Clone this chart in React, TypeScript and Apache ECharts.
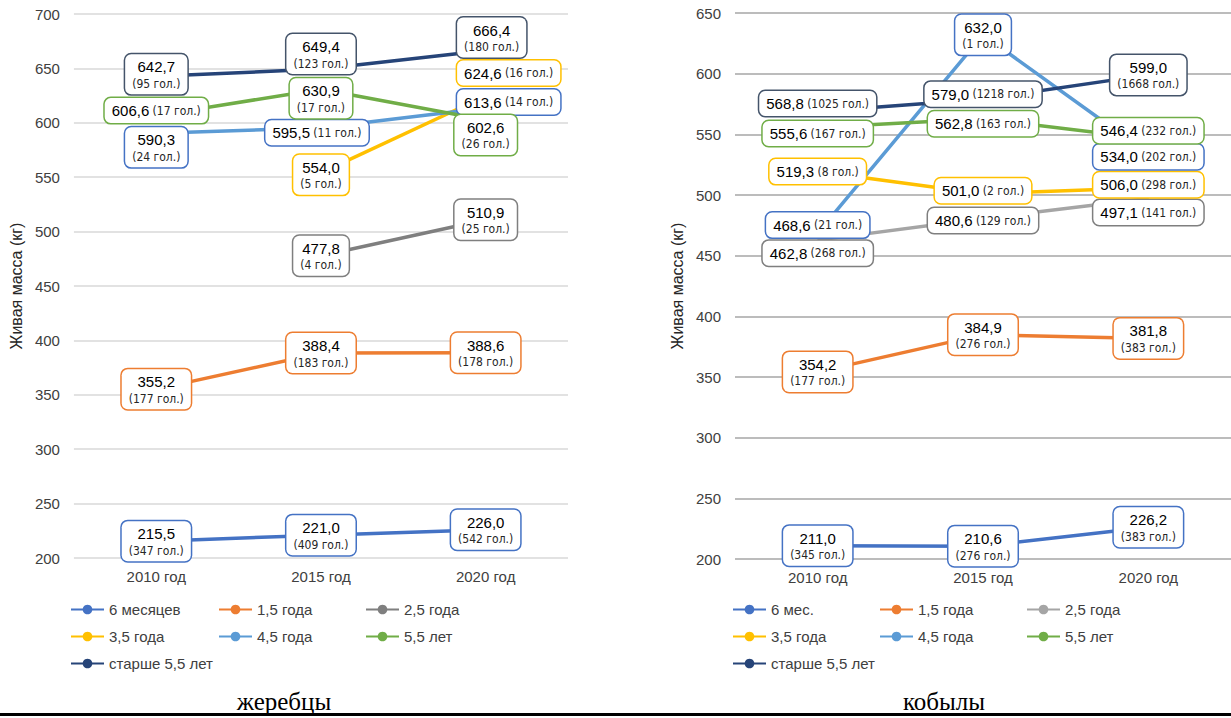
import React, { useEffect, useRef } from 'react';
import * as echarts from 'echarts';

// Category axis: survey years
const years = ['2010 год', '2015 год', '2020 год'];

// Stallions (жеребцы): live weight, kg, and number of heads per age group
const stallionAges = ['6 месяцев', '1,5 года', '2,5 года', '3,5 года', '4,5 года', '5,5 лет', 'старше 5,5 лет'];
const stallion6m = [215.5, 221.0, 226.0];
const stallion6mHeads = [347, 409, 542];
const stallion15 = [355.2, 388.4, 388.6];
const stallion15Heads = [177, 183, 178];
const stallion25 = [null, 477.8, 510.9];
const stallion25Heads = [null, 4, 25];
const stallion35 = [null, 554.0, 624.6];
const stallion35Heads = [null, 5, 16];
const stallion45 = [590.3, 595.5, 613.6];
const stallion45Heads = [24, 11, 14];
const stallion55 = [606.6, 630.9, 602.6];
const stallion55Heads = [17, 17, 26];
const stallionOld = [642.7, 649.4, 666.4];
const stallionOldHeads = [95, 123, 180];

// Mares (кобылы)
const mareAges = ['6 мес.', '1,5 года', '2,5 года', '3,5 года', '4,5 года', '5,5 лет', 'старше 5,5 лет'];
const mare6m = [211.0, 210.6, 226.2];
const mare6mHeads = [345, 276, 383];
const mare15 = [354.2, 384.9, 381.8];
const mare15Heads = [177, 276, 383];
const mare25 = [462.8, 480.6, 497.1];
const mare25Heads = [268, 129, 141];
const mare35 = [519.3, 501.0, 506.0];
const mare35Heads = [8, 2, 298];
const mare45 = [468.6, 632.0, 534.0];
const mare45Heads = [21, 1, 202];
const mare55 = [555.6, 562.8, 546.4];
const mare55Heads = [167, 163, 232];
const mareOld = [568.8, 579.0, 599.0];
const mareOldHeads = [1025, 1218, 1668];

// Line colours and label box border colours per age group
const lineColors = ['#4472C4', '#ED7D31', '#7F7F7F', '#FFC000', '#5B9BD5', '#70AD47', '#264478'];
const mareLineColors = ['#4472C4', '#ED7D31', '#A5A5A5', '#FFC000', '#5B9BD5', '#70AD47', '#264478'];
const boxColors = ['#4472C4', '#ED7D31', '#7F7F7F', '#FFC000', '#4472C4', '#70AD47', '#44546A'];

// Label layout per point: [d = two lines | s = one line, dx, dy]
type Layout = [string, number, number];
const stallionLayout: Layout[][] = [
  [['d', 0, 0], ['d', 0, 0], ['d', 0, 0]],
  [['d', 0, 0], ['d', 0, 0], ['d', 0, 0]],
  [['d', 0, 0], ['d', 0, 0], ['d', 0, 0]],
  [['d', 0, 0], ['d', 0, 2], ['s', 23, -23]],
  [['d', 0, 14], ['s', -4, 5], ['s', 23, -6]],
  [['s', 0, -5], ['d', 0, 9], ['d', 0, 15]],
  [['d', 0, -2], ['d', 0, -15], ['d', 6, -13]],
];
const mareLayout: Layout[][] = [
  [['d', 0, 0], ['d', 0, 0], ['d', 0, 0]],
  [['d', 0, 0], ['d', 0, 0], ['d', 0, 0]],
  [['s', 0, 13], ['s', 0, 2], ['s', 0, 14]],
  [['s', 0, 0], ['s', 0, -3], ['s', 0, -3]],
  [['s', 0, -8], ['d', 0, 0], ['s', 0, 3]],
  [['s', 0, 6], ['s', 0, 5], ['s', 0, -8]],
  [['s', 0, -8], ['s', 0, -5], ['d', 0, 0]],
];

const fmt = (v: number) => v.toFixed(1).replace('.', ',');

const SANS = "'Liberation Sans', Arial, sans-serif";
const NARROW = "'Liberation Sans Narrow', 'Arial Narrow', 'DejaVu Sans Condensed', sans-serif";

function buildSeries(
  names: string[],
  values: (number | null)[][],
  heads: (number | null)[][],
  layout: Layout[][],
  colors: string[],
) {
  return names.map((name, i) => ({
    type: 'line',
    name,
    symbol: 'circle',
    symbolSize: 1,
    showSymbol: true,
    lineStyle: { color: colors[i], width: 3.5 },
    itemStyle: { color: colors[i] },
    emphasis: { disabled: true },
    label: {
      show: true,
      position: 'inside',
      backgroundColor: '#ffffff',
      borderColor: boxColors[i],
      borderWidth: 1.5,
      borderRadius: 6,
      padding: [3, 7, 3, 7],
      rich: {
        v: { fontSize: 15, fontFamily: SANS, color: '#000000', lineHeight: 19 },
        c: { fontSize: 12, fontFamily: NARROW, color: '#262626', lineHeight: 15 },
      },
    },
    data: values[i].map((v, j) => {
      if (v === null) return null;
      const [mode, dx, dy] = layout[i][j];
      const sep = mode === 'd' ? '\n' : ' ';
      return {
        value: v,
        label: {
          formatter: `{v|${fmt(v)}}${sep}{c|(${heads[i][j]} гол.)}`,
          offset: [dx, dy],
        },
      };
    }),
  }));
}

type PanelCfg = {
  names: string[];
  series: any[];
  yMax: number;
  grid: { left: number; top: number; width: number; height: number };
  gridColor: string;
  gridWidth: number;
  legendCols: number[];
  caption: string;
  captionX: number;
  width: number;
};

function buildOption(cfg: PanelCfg) {
  const cols = [
    [cfg.names[0], cfg.names[3], cfg.names[6]],
    [cfg.names[1], cfg.names[4]],
    [cfg.names[2], cfg.names[5]],
  ];
  return {
    animation: false,
    grid: cfg.grid,
    xAxis: {
      type: 'category',
      data: years,
      boundaryGap: true,
      axisLine: { show: false },
      axisTick: { show: false },
      axisLabel: { fontSize: 15, color: '#404040', fontFamily: SANS, margin: 11 },
    },
    yAxis: {
      type: 'value',
      min: 200,
      max: cfg.yMax,
      interval: 50,
      name: 'Живая масса (кг)',
      nameLocation: 'middle',
      nameGap: 44,
      nameTextStyle: { fontSize: 16, color: '#262626', fontFamily: SANS },
      axisLine: { show: false },
      axisTick: { show: false },
      axisLabel: { fontSize: 15, color: '#404040', fontFamily: SANS, margin: 14 },
      splitLine: { lineStyle: { color: cfg.gridColor, width: cfg.gridWidth } },
    },
    legend: cols.map((data, k) => ({
      orient: 'vertical',
      left: cfg.legendCols[k],
      top: 601,
      padding: 0,
      data,
      itemWidth: 33,
      itemHeight: 12,
      itemGap: 10,
      selectedMode: false,
      textStyle: { fontSize: 15, color: '#404040', fontFamily: SANS, lineHeight: 17 },
    })),
    graphic: [
      {
        type: 'text',
        x: cfg.captionX,
        y: 701,
        style: {
          text: cfg.caption,
          font: "25px 'Liberation Serif', 'Times New Roman', serif",
          fill: '#000000',
          textAlign: 'center',
          textVerticalAlign: 'middle',
        },
      },
      {
        type: 'rect',
        shape: { x: 0, y: 713, width: cfg.width, height: 3 },
        style: { fill: '#000000' },
      },
    ],
    series: cfg.series,
  };
}

function Panel({ cfg, left }: { cfg: PanelCfg; left: number }) {
  const ref = useRef<HTMLDivElement>(null);
  useEffect(() => {
    if (!ref.current) return;
    const chart = echarts.init(ref.current, undefined, { renderer: 'svg' });
    chart.setOption(buildOption(cfg));
    return () => chart.dispose();
  }, [cfg]);
  return (
    <div
      ref={ref}
      style={{ position: 'absolute', left, top: 0, width: cfg.width, height: 718 }}
    />
  );
}

const stallionCfg: PanelCfg = {
  names: stallionAges,
  series: buildSeries(
    stallionAges,
    [stallion6m, stallion15, stallion25, stallion35, stallion45, stallion55, stallionOld],
    [stallion6mHeads, stallion15Heads, stallion25Heads, stallion35Heads, stallion45Heads, stallion55Heads, stallionOldHeads],
    stallionLayout,
    lineColors,
  ),
  yMax: 700,
  grid: { left: 72, top: 14, width: 496, height: 544 },
  gridColor: '#D9D9D9',
  gridWidth: 1.5,
  legendCols: [70, 218, 365],
  caption: 'жеребцы',
  captionX: 284,
  width: 615,
};

const mareCfg: PanelCfg = {
  names: mareAges,
  series: buildSeries(
    mareAges,
    [mare6m, mare15, mare25, mare35, mare45, mare55, mareOld],
    [mare6mHeads, mare15Heads, mare25Heads, mare35Heads, mare45Heads, mare55Heads, mareOldHeads],
    mareLayout,
    mareLineColors,
  ),
  yMax: 650,
  grid: { left: 120, top: 13, width: 496, height: 546 },
  gridColor: '#A6A6A6',
  gridWidth: 1.5,
  legendCols: [117, 264, 411],
  caption: 'кобылы',
  captionX: 329,
  width: 616,
};

export default function App() {
  return (
    <div style={{ position: 'absolute', left: 0, top: 0, width: 1231, height: 718, background: '#ffffff' }}>
      <Panel cfg={stallionCfg} left={0} />
      <Panel cfg={mareCfg} left={615} />
    </div>
  );
}
